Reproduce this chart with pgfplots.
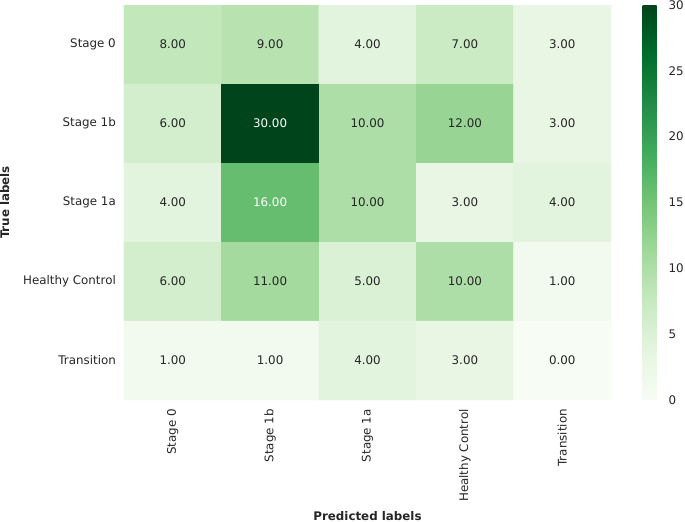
\documentclass[border=0pt]{standalone}
\usepackage{pgfplots}
\pgfplotsset{compat=1.18}
\usepackage{fontspec}
\setmainfont{DejaVu Sans}
\definecolor{txt}{HTML}{262626}
\pgfplotsset{colormap={greens}{rgb255=(247,252,245) rgb255=(229,245,224) rgb255=(199,233,192) rgb255=(161,217,155) rgb255=(116,196,118) rgb255=(65,171,93) rgb255=(35,139,69) rgb255=(0,109,44) rgb255=(0,68,27)}}
\begin{document}
\begin{tikzpicture}[font=\fontsize{11.9}{14}\selectfont, text=txt]
\begin{axis}[name=ax,
  scale only axis, width=487bp, height=395bp,
  xmin=-0.5, xmax=4.5, ymin=-0.5, ymax=4.5,
  enlargelimits=false,
  colormap name=greens, point meta min=0, point meta max=30,
  axis line style={draw=none}, major tick length=0pt,
  xtick={0,...,4}, ytick={0,...,4},
  xticklabels={Stage 0, Stage 1b, Stage 1a, Healthy Control, Transition},
  yticklabels={Transition, Healthy Control, Stage 1a, Stage 1b, Stage 0},
  xticklabel style={rotate=90, anchor=east, inner sep=0pt, xshift=-9bp},
  yticklabel style={inner sep=0pt, xshift=-8bp},
  xlabel={\bfseries Predicted labels}, ylabel={\bfseries True labels},
  xlabel style={at={(axis description cs:0.5,-0.3038)}, anchor=base, inner sep=0pt},
  ylabel style={at={(axis description cs:-0.2361,0.5)}, anchor=base, inner sep=0pt},
  colorbar,
  colorbar style={at={(parent axis.north east)}, anchor=north west, xshift=23bp,
    width=20bp, ytick={0,5,...,30}, axis line style={draw=none}, major tick length=0pt,
    yticklabel style={inner sep=0pt, xshift=6bp, anchor=west},
    /pgf/number format/assume math mode=true},
]
\addplot[matrix plot*, mesh/cols=5, point meta=explicit] table[meta=v] {
x y v
0 4 8
1 4 9
2 4 4
3 4 7
4 4 3
0 3 6
1 3 30
2 3 10
3 3 12
4 3 3
0 2 4
1 2 16
2 2 10
3 2 3
4 2 4
0 1 6
1 1 11
2 1 5
3 1 10
4 1 1
0 0 1
1 0 1
2 0 4
3 0 3
4 0 0
};
\addplot[draw=none, mark=none, nodes near coords, point meta=explicit symbolic,
  nodes near coords style={anchor=center, text=txt}] table[meta=lab] {
x y lab
0 4 8.00
1 4 9.00
2 4 4.00
3 4 7.00
4 4 3.00
0 3 6.00
2 3 10.00
3 3 12.00
4 3 3.00
0 2 4.00
2 2 10.00
3 2 3.00
4 2 4.00
0 1 6.00
1 1 11.00
2 1 5.00
3 1 10.00
4 1 1.00
0 0 1.00
1 0 1.00
2 0 4.00
3 0 3.00
4 0 0.00
};
\addplot[draw=none, mark=none, nodes near coords, point meta=explicit symbolic,
  nodes near coords style={anchor=center, text=white}] table[meta=lab] {
x y lab
1 3 30.00
1 2 16.00
};
\end{axis}
\pgfresetboundingbox
\path ([xshift=-124bp,yshift=5bp]ax.north west) rectangle ([xshift=74bp,yshift=-122bp]ax.south east);
\end{tikzpicture}
\end{document}
